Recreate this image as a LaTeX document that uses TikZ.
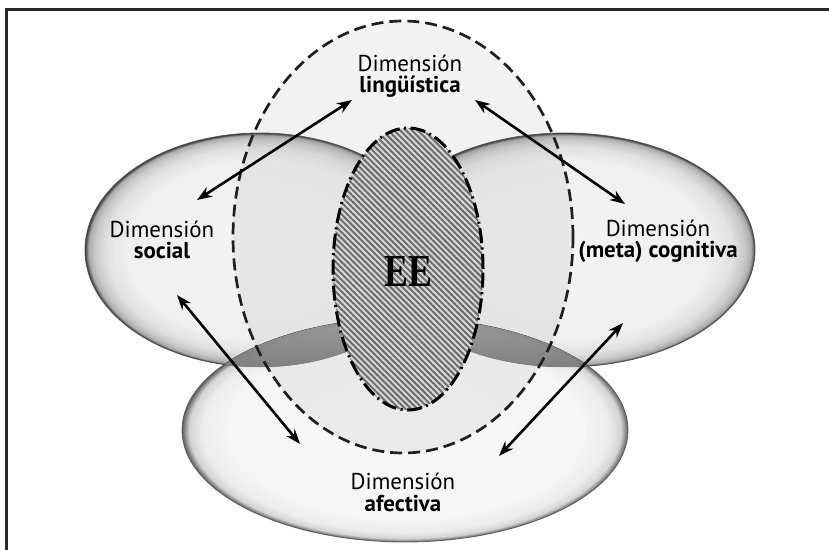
\documentclass[tikz,border=0pt]{standalone}
\usepackage{fontspec}
\usepackage{graphicx}
\usetikzlibrary{shapes.geometric,arrows.meta,patterns.meta}
\newfontfamily\labfont{PT Sans}
\newfontfamily\eefont{Liberation Serif}
\pgfdeclareradialshading{glossy}{\pgfpointorigin}{color(0bp)=(gray!9);color(19bp)=(gray!13);color(22bp)=(gray!26);color(23.6bp)=(gray!48);color(24.5bp)=(gray!75);color(25bp)=(black!88);color(50bp)=(black!88)}
\pgfdeclareradialshading{glossylight}{\pgfpointorigin}{color(0bp)=(gray!7);color(20bp)=(gray!9);color(22.8bp)=(gray!18);color(24.2bp)=(gray!42);color(25bp)=(black!78);color(50bp)=(black!78)}
\tikzset{
  dimbubble/.style={ellipse, inner sep=0pt, outer sep=0pt, shading=glossy, opacity=0.88, draw=black!70, line width=0.8bp},
  dimbottom/.style={ellipse, inner sep=0pt, outer sep=0pt, shading=glossylight, opacity=0.8, draw=black!70, line width=0.8bp},
  lingring/.style={ellipse, inner sep=0pt, outer sep=0pt, draw=black!88, line width=2.7bp, dash pattern=on 12bp off 6bp, fill=gray, fill opacity=0.1},
  eering/.style={ellipse, inner sep=0pt, outer sep=0pt, draw=black, line width=3bp, dash pattern=on 15bp off 4.5bp on 2bp off 4.5bp, preaction={fill=gray!30}, pattern={Lines[angle=-45,distance=4.2bp,line width=2bp]}, pattern color=gray!85!black},
  lensfill/.style={top color=gray!45, bottom color=gray!80, opacity=0.75},
  dimlabel/.style={align=center, text=black, font=\labfont\fontsize{23}{22}\selectfont, inner sep=0pt},
  dimarrow/.style={<->, >={Stealth[length=15bp,width=11bp]}, line width=2.6bp, black}
}
\begin{document}
\begin{tikzpicture}[x=1bp,y=-1bp]
\useasboundingbox (0,0) rectangle (829,550);
\fill[white] (0,0) rectangle (829,550);
% frame
\draw[line width=3bp, black!85] (829,10) -- (6,10) -- (6,550);
% ellipses
\node[dimbubble, minimum width=350bp, minimum height=234bp] (soc) at (260,250) {};
\node[dimbubble, minimum width=380bp, minimum height=234bp] (met) at (565,250) {};
\node[dimbottom, minimum width=446bp, minimum height=224bp] (afe) at (405,430) {};
% darker lenses where the side bubbles meet the bottom one
\begin{scope}
  \clip (405,430) ellipse [x radius=223, y radius=112];
  \clip (260,250) ellipse [x radius=175, y radius=117];
  \fill[lensfill] (80,315) rectangle (440,368);
\end{scope}
\begin{scope}
  \clip (405,430) ellipse [x radius=223, y radius=112];
  \clip (565,250) ellipse [x radius=190, y radius=117];
  \fill[lensfill] (370,315) rectangle (760,368);
\end{scope}
\node[lingring, minimum width=340bp, minimum height=432bp] (lin) at (403,237) {};
\node[eering, minimum width=150bp, minimum height=282bp] (ee) at (408,269) {};
% labels
\node[font=\eefont\fontsize{46}{46}\selectfont, text=black, inner sep=0pt] (eet) at (408,271) {\scalebox{0.78}[1]{\textbf{EE}}};
\node[dimlabel, anchor=base] (tlin) at (410,93) {Dimensión\\\textbf{lingüística}};
\node[dimlabel, anchor=base] (tsoc) at (162,259) {Dimensión\\\textbf{social}};
\node[dimlabel, anchor=base] (tmet) at (658,258) {Dimensión\\\textbf{(meta) cognitiva}};
\node[dimlabel, anchor=base] (tafe) at (403,511) {Dimensión\\\textbf{afectiva}};
% arrow ends
\coordinate (a1s) at (197,200);
\coordinate (a1l) at (352,100);
\coordinate (a2l) at (475,100);
\coordinate (a2m) at (625,204);
\coordinate (a3s) at (177,295);
\coordinate (a3a) at (300,444);
\coordinate (a4m) at (623,323);
\coordinate (a4a) at (499,456);
\draw[dimarrow] (a1s) -- (a1l);
\draw[dimarrow] (a2l) -- (a2m);
\draw[dimarrow] (a3s) -- (a3a);
\draw[dimarrow] (a4m) -- (a4a);
\end{tikzpicture}
\end{document}
